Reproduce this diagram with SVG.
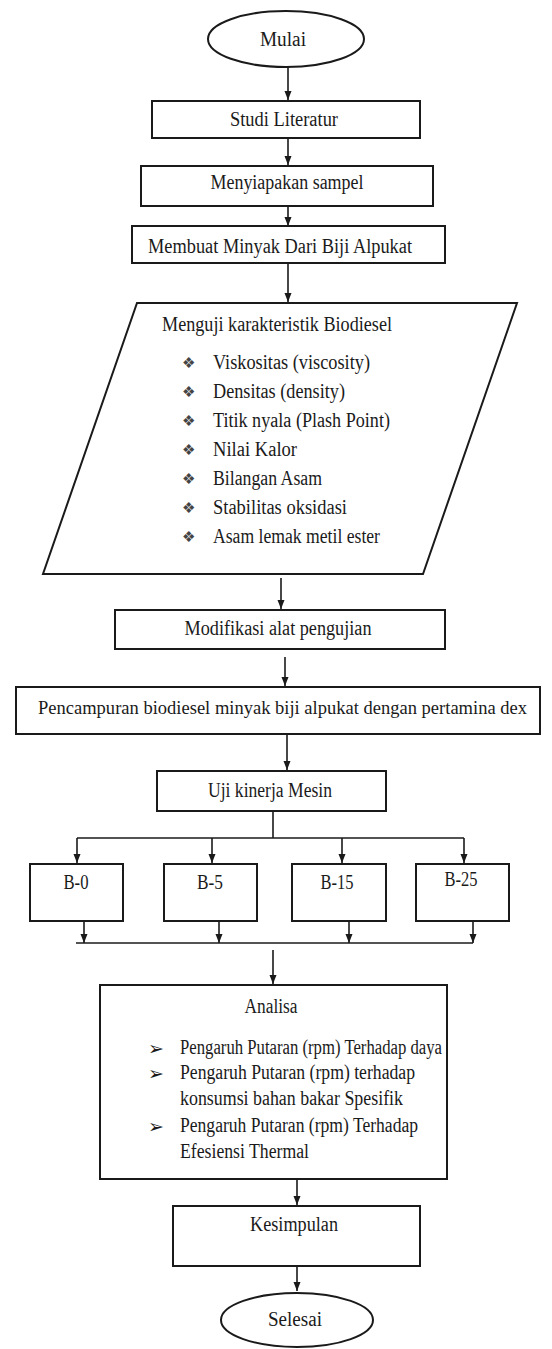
<svg xmlns="http://www.w3.org/2000/svg" width="552" height="1349" viewBox="0 0 552 1349">
<style>
.shape{fill:#fff;stroke:#1a1a1a;stroke-width:2}
.t{font-family:"Liberation Serif","Times New Roman",serif;font-size:20px;fill:#1a1a1a}
.c{text-anchor:middle}
.b{font-family:"DejaVu Sans",sans-serif;font-size:15px;fill:#444}
.a{font-family:"DejaVu Sans",sans-serif;font-size:19px;fill:#1a1a1a}
.ln{fill:none;stroke:#1a1a1a;stroke-width:1.6}
</style>
<defs>
<marker id="ah" markerUnits="userSpaceOnUse" markerWidth="9" markerHeight="8" refX="9" refY="3.5" orient="auto">
<path d="M0,0 L9,3.5 L0,7 z" fill="#1a1a1a"/>
</marker>
</defs>
<rect width="552" height="1349" fill="#fff"/>

<g id="connectors">
<line class="ln" x1="288" y1="67" x2="288" y2="100" marker-end="url(#ah)"/>
<line class="ln" x1="288" y1="138" x2="288" y2="165" marker-end="url(#ah)"/>
<line class="ln" x1="288" y1="206" x2="288" y2="226" marker-end="url(#ah)"/>
<line class="ln" x1="288" y1="263" x2="288" y2="302" marker-end="url(#ah)"/>
<line class="ln" x1="281" y1="578" x2="281" y2="609" marker-end="url(#ah)"/>
<line class="ln" x1="285" y1="657" x2="285" y2="686" marker-end="url(#ah)"/>
<line class="ln" x1="287" y1="735" x2="287" y2="770" marker-end="url(#ah)"/>
<polyline class="ln" points="273,811 273,838"/>
<line class="ln" x1="77" y1="838" x2="464" y2="838"/>
<line class="ln" x1="77" y1="838" x2="77" y2="863" marker-end="url(#ah)"/>
<line class="ln" x1="212" y1="838" x2="212" y2="863" marker-end="url(#ah)"/>
<line class="ln" x1="342" y1="838" x2="342" y2="863" marker-end="url(#ah)"/>
<line class="ln" x1="464" y1="838" x2="464" y2="863" marker-end="url(#ah)"/>
<line class="ln" x1="84" y1="921" x2="84" y2="943" marker-end="url(#ah)"/>
<line class="ln" x1="219" y1="921" x2="219" y2="943" marker-end="url(#ah)"/>
<line class="ln" x1="349" y1="921" x2="349" y2="943" marker-end="url(#ah)"/>
<line class="ln" x1="473" y1="921" x2="473" y2="943" marker-end="url(#ah)"/>
<line class="ln" x1="76" y1="943" x2="473" y2="943"/>
<line class="ln" x1="273" y1="950" x2="273" y2="984" marker-end="url(#ah)"/>
<line class="ln" x1="297" y1="1179" x2="297" y2="1205" marker-end="url(#ah)"/>
<line class="ln" x1="297" y1="1266" x2="297" y2="1291" marker-end="url(#ah)"/>
</g>

<g id="mulai">
<ellipse class="shape" cx="286" cy="39" rx="78" ry="28"/>
<text class="t c" x="283" y="46" textLength="46" lengthAdjust="spacingAndGlyphs">Mulai</text>
</g>

<g id="studi">
<rect class="shape" x="152" y="101" width="268" height="37"/>
<text class="t c" x="284" y="126" textLength="108" lengthAdjust="spacingAndGlyphs">Studi Literatur</text>
</g>

<g id="menyiapakan">
<rect class="shape" x="141" y="166" width="292" height="40"/>
<text class="t c" x="287" y="189" textLength="153" lengthAdjust="spacingAndGlyphs">Menyiapakan sampel</text>
</g>

<g id="membuat">
<rect class="shape" x="132" y="226" width="313" height="37"/>
<text class="t c" x="280" y="253" textLength="264" lengthAdjust="spacingAndGlyphs">Membuat Minyak Dari Biji Alpukat</text>
</g>

<g id="menguji">
<polygon class="shape" points="137,303 517,303 423,574 43,574"/>
<text class="t" x="162" y="331" textLength="230" lengthAdjust="spacingAndGlyphs">Menguji karakteristik Biodiesel</text>
<text class="b" x="182" y="368">❖</text>
<text class="t" x="213" y="369" textLength="157" lengthAdjust="spacingAndGlyphs">Viskositas (viscosity)</text>
<text class="b" x="182" y="397">❖</text>
<text class="t" x="213" y="398" textLength="132" lengthAdjust="spacingAndGlyphs">Densitas (density)</text>
<text class="b" x="182" y="426">❖</text>
<text class="t" x="213" y="427" textLength="177" lengthAdjust="spacingAndGlyphs">Titik nyala (Plash Point)</text>
<text class="b" x="182" y="455">❖</text>
<text class="t" x="213" y="456" textLength="84" lengthAdjust="spacingAndGlyphs">Nilai Kalor</text>
<text class="b" x="182" y="484">❖</text>
<text class="t" x="213" y="485" textLength="109" lengthAdjust="spacingAndGlyphs">Bilangan Asam</text>
<text class="b" x="182" y="513">❖</text>
<text class="t" x="213" y="514" textLength="134" lengthAdjust="spacingAndGlyphs">Stabilitas oksidasi</text>
<text class="b" x="182" y="542">❖</text>
<text class="t" x="213" y="543" textLength="167" lengthAdjust="spacingAndGlyphs">Asam lemak metil ester</text>
</g>

<g id="modifikasi">
<rect class="shape" x="115" y="610" width="330" height="39"/>
<text class="t c" x="278" y="635" textLength="187" lengthAdjust="spacingAndGlyphs">Modifikasi alat pengujian</text>
</g>

<g id="pencampuran">
<rect class="shape" x="16" y="687" width="524" height="47"/>
<text class="t" x="38" y="714" style="font-size:18.5px" textLength="489" lengthAdjust="spacingAndGlyphs">Pencampuran biodiesel minyak biji alpukat dengan pertamina dex</text>
</g>

<g id="uji">
<rect class="shape" x="157" y="771" width="229" height="40"/>
<text class="t c" x="270" y="797" textLength="124" lengthAdjust="spacingAndGlyphs">Uji kinerja Mesin</text>
</g>

<g id="b0">
<rect class="shape" x="30" y="864" width="93" height="57"/>
<text class="t c" x="76" y="889" textLength="25" lengthAdjust="spacingAndGlyphs">B-0</text>
</g>
<g id="b5">
<rect class="shape" x="164" y="864" width="93" height="57"/>
<text class="t c" x="210" y="889" textLength="26" lengthAdjust="spacingAndGlyphs">B-5</text>
</g>
<g id="b15">
<rect class="shape" x="292" y="864" width="94" height="57"/>
<text class="t c" x="337" y="889" textLength="33" lengthAdjust="spacingAndGlyphs">B-15</text>
</g>
<g id="b25">
<rect class="shape" x="416" y="864" width="93" height="57"/>
<text class="t c" x="461" y="886" textLength="33" lengthAdjust="spacingAndGlyphs">B-25</text>
</g>

<g id="analisa">
<rect class="shape" x="100" y="985" width="347" height="194"/>
<text class="t c" x="271" y="1013" textLength="53" lengthAdjust="spacingAndGlyphs">Analisa</text>
<text class="a" x="148" y="1055">➢</text>
<text class="t" x="180" y="1054" textLength="262" lengthAdjust="spacingAndGlyphs">Pengaruh Putaran (rpm) Terhadap daya</text>
<text class="a" x="148" y="1080">➢</text>
<text class="t" x="180" y="1079" textLength="235" lengthAdjust="spacingAndGlyphs">Pengaruh Putaran (rpm) terhadap</text>
<text class="t" x="180" y="1105" textLength="223" lengthAdjust="spacingAndGlyphs">konsumsi bahan bakar Spesifik</text>
<text class="a" x="148" y="1133">➢</text>
<text class="t" x="180" y="1132" textLength="238" lengthAdjust="spacingAndGlyphs">Pengaruh Putaran (rpm) Terhadap</text>
<text class="t" x="180" y="1158" textLength="129" lengthAdjust="spacingAndGlyphs">Efesiensi Thermal</text>
</g>

<g id="kesimpulan">
<rect class="shape" x="173" y="1206" width="247" height="60"/>
<text class="t c" x="294" y="1231" textLength="88" lengthAdjust="spacingAndGlyphs">Kesimpulan</text>
</g>

<g id="selesai">
<ellipse class="shape" cx="297" cy="1320" rx="76" ry="27"/>
<text class="t c" x="295" y="1326" textLength="54" lengthAdjust="spacingAndGlyphs">Selesai</text>
</g>
</svg>
